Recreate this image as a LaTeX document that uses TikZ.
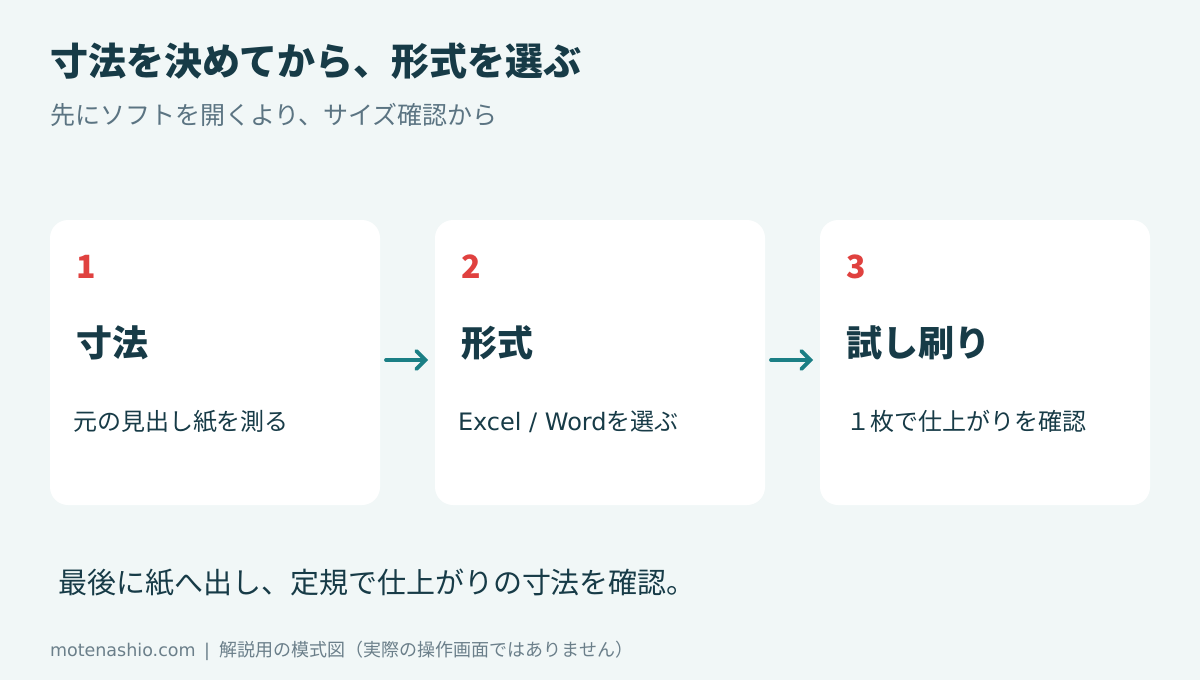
\documentclass[tikz,border=0pt]{standalone}
\usepackage{fontspec}
\setmainfont{Noto Sans CJK JP}
\newfontfamily\lat{DejaVu Sans}
\usetikzlibrary{arrows.meta}
\definecolor{bgc}{HTML}{F1F7F7}
\definecolor{ink}{HTML}{173B47}
\definecolor{subc}{HTML}{5B7482}
\definecolor{redc}{HTML}{E0413F}
\definecolor{teal}{HTML}{1B7F85}
\definecolor{footc}{HTML}{6B7F8A}
\tikzset{
  card/.style={fill=white, rounded corners=18pt},
  txt/.style={anchor=base west, inner sep=0pt, outer sep=0pt},
  titletxt/.style={txt, text=ink, font=\fontsize{38}{42}\selectfont\bfseries},
  subtxt/.style={txt, text=subc, font=\fontsize{25}{30}\selectfont},
  numtxt/.style={txt, text=redc, font=\fontsize{32}{36}\selectfont\bfseries},
  headtxt/.style={txt, text=ink, font=\fontsize{36}{40}\selectfont\bfseries},
  desctxt/.style={txt, text=ink, font=\fontsize{24}{28}\selectfont},
  bottxt/.style={txt, text=ink, font=\fontsize{29}{34}\selectfont},
  foottxt/.style={txt, text=footc, font=\fontsize{18}{20}\selectfont},
  flow/.style={draw=teal, line width=3.8pt, line cap=round, -{Straight Barb[length=9pt,width=18pt,line cap=round]}}
}
\begin{document}
\begin{tikzpicture}[x=1pt,y=-1pt]
\useasboundingbox (0,0) rectangle (1200,680);
\fill[bgc] (0,0) rectangle (1200,680);
\node[titletxt] (title) at (50,75) {寸法を決めてから、形式を選ぶ};
\node[subtxt] (sub) at (50,124) {先にソフトを開くより、サイズ確認から};
% cards
\fill[card] (50,220) rectangle (380,505);
\fill[card] (435,220) rectangle (765,505);
\fill[card] (820,220) rectangle (1150,505);
\coordinate (c1e) at (386,360);
\coordinate (c2w) at (428,360);
\coordinate (c2e) at (771,360);
\coordinate (c3w) at (813,360);
\node[numtxt] (n1) at (76,278) {1};
\node[numtxt] (n2) at (461,278) {2};
\node[numtxt] (n3) at (846,278) {3};
\node[headtxt] (h1) at (76,356) {寸法};
\node[headtxt] (h2) at (461,356) {形式};
\node[headtxt] (h3) at (846,356) {試し刷り};
\node[desctxt] (d1) at (73,430) {元の見出し紙を測る};
\node[desctxt] (d2) at (458,430) {{\lat\fontsize{24}{28}\selectfont Excel / Word}を選ぶ};
\node[desctxt] (d3) at (846,430) {１枚で仕上がりを確認};
\draw[flow] (c1e) -- (c2w);
\draw[flow] (c2e) -- (c3w);
\node[bottxt] (bot) at (58,593) {最後に紙へ出し、定規で仕上がりの寸法を確認。};
\node[foottxt] (foot) at (50,656) {{\lat\fontsize{17.5}{20}\selectfont motenashio.com\hspace{3pt} |\hspace{4pt} }解説用の模式図（実際の操作画面ではありません）};
\end{tikzpicture}
\end{document}
